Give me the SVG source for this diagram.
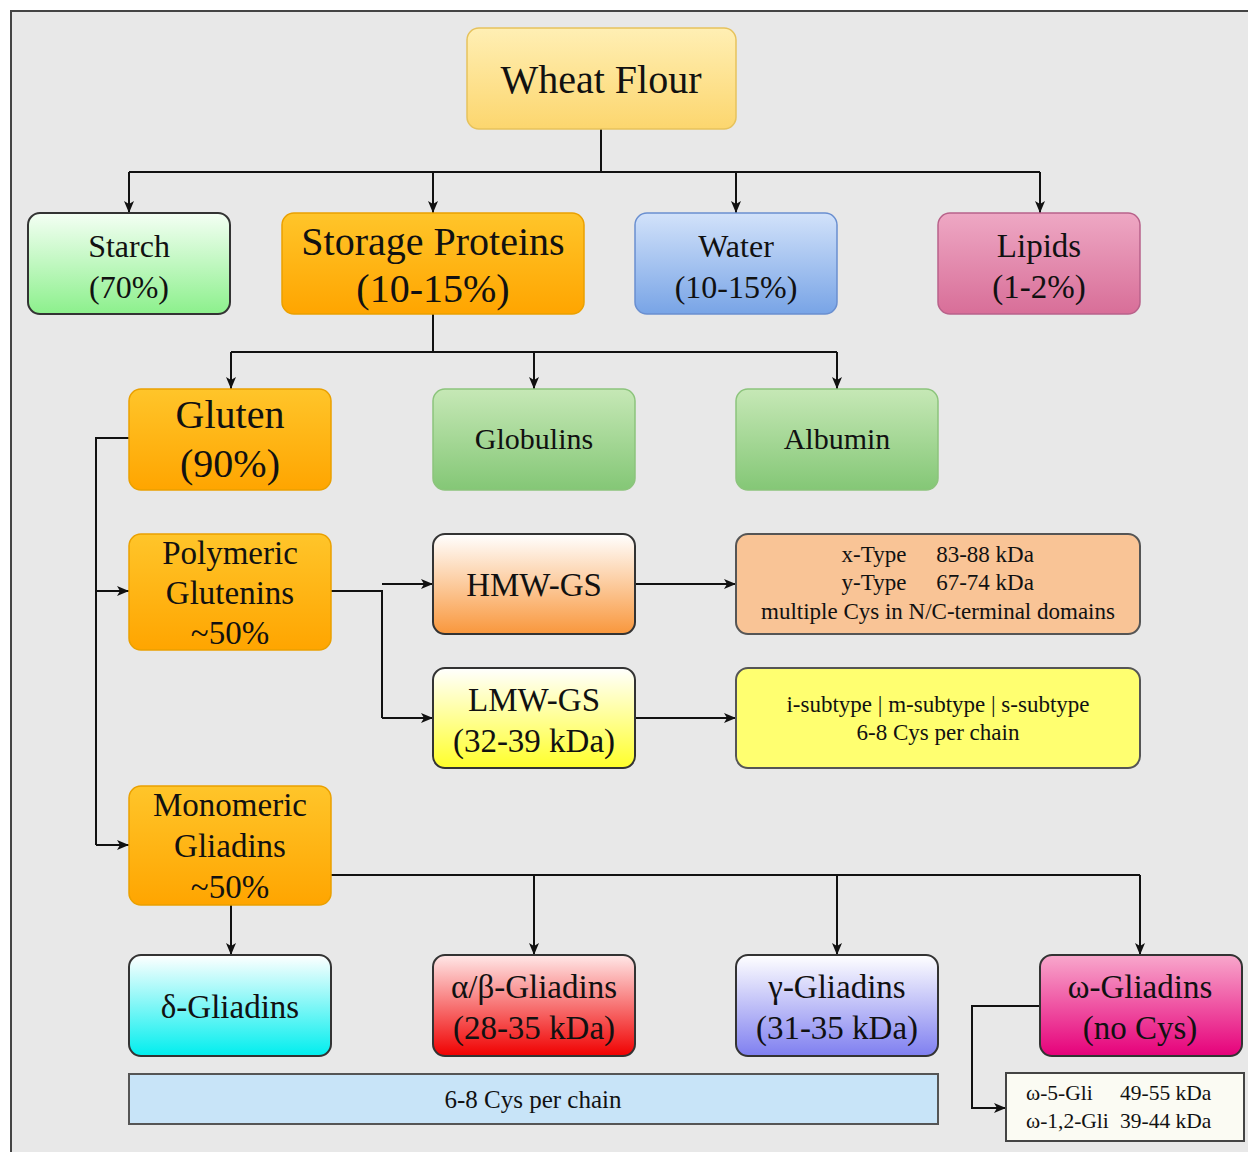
<svg xmlns="http://www.w3.org/2000/svg" width="1248" height="1152" viewBox="0 0 1248 1152" font-family="'Liberation Serif', Tinos, 'Times New Roman', 'DejaVu Serif', serif">
<style>
text{font-family:"Liberation Serif",Tinos,"Times New Roman","DejaVu Serif",serif;fill:#111;text-anchor:middle}
.c{fill:none;stroke:#111;stroke-width:2}
.f40{font-size:40px}.f33{font-size:33px}.f32{font-size:32px}.f30{font-size:30px}.f23{font-size:23px}.f21{font-size:21.5px}.f25{font-size:25px}
</style>
<defs>
<marker id="ah" viewBox="0 0 12 10" refX="12" refY="5" markerWidth="12" markerHeight="10" markerUnits="userSpaceOnUse" orient="auto">
<path d="M0,0 L12,5 L0,10 L3,5 Z" fill="#111"/>
</marker>
<linearGradient id="gWF" x1="0" y1="0" x2="0" y2="1"><stop offset="0" stop-color="#ffefb4"/><stop offset="1" stop-color="#fcd66e"/></linearGradient>
<linearGradient id="gOr" x1="0" y1="0" x2="0" y2="1"><stop offset="0" stop-color="#ffc52a"/><stop offset="1" stop-color="#ffa500"/></linearGradient>
<linearGradient id="gSt" x1="0" y1="0" x2="0" y2="1"><stop offset="0" stop-color="#f4fff4"/><stop offset="1" stop-color="#8cf08c"/></linearGradient>
<linearGradient id="gWa" x1="0" y1="0" x2="0" y2="1"><stop offset="0" stop-color="#d2e2fa"/><stop offset="1" stop-color="#78a4e6"/></linearGradient>
<linearGradient id="gLi" x1="0" y1="0" x2="0" y2="1"><stop offset="0" stop-color="#eea8c4"/><stop offset="1" stop-color="#d86e98"/></linearGradient>
<linearGradient id="gGr" x1="0" y1="0" x2="0" y2="1"><stop offset="0" stop-color="#c6e8b6"/><stop offset="1" stop-color="#84c776"/></linearGradient>
<linearGradient id="gHM" x1="0" y1="0" x2="0" y2="1"><stop offset="0" stop-color="#ffffff"/><stop offset="1" stop-color="#f9973c"/></linearGradient>
<linearGradient id="gLM" x1="0" y1="0" x2="0" y2="1"><stop offset="0" stop-color="#ffffff"/><stop offset="1" stop-color="#ffff2a"/></linearGradient>
<linearGradient id="gDe" x1="0" y1="0" x2="0" y2="1"><stop offset="0" stop-color="#ffffff"/><stop offset="1" stop-color="#00eeee"/></linearGradient>
<linearGradient id="gAB" x1="0" y1="0" x2="0" y2="1"><stop offset="0" stop-color="#ffe8e8"/><stop offset="1" stop-color="#f00000"/></linearGradient>
<linearGradient id="gGa" x1="0" y1="0" x2="0" y2="1"><stop offset="0" stop-color="#ffffff"/><stop offset="1" stop-color="#7f7ff0"/></linearGradient>
<linearGradient id="gOm" x1="0" y1="0" x2="0" y2="1"><stop offset="0" stop-color="#f8a8cc"/><stop offset="1" stop-color="#e6007a"/></linearGradient>
</defs>
<rect width="1248" height="1152" fill="#ffffff"/>
<rect x="11" y="11" width="1260" height="1160" fill="#e8e8e8" stroke="#444" stroke-width="2"/>

<g id="connectors">
<path class="c" d="M601,129 V172"/>
<path class="c" d="M129,172 H1040"/>
<path class="c" d="M129,172 V213" marker-end="url(#ah)"/>
<path class="c" d="M433,172 V213" marker-end="url(#ah)"/>
<path class="c" d="M736,172 V213" marker-end="url(#ah)"/>
<path class="c" d="M1040,172 V213" marker-end="url(#ah)"/>
<path class="c" d="M433,314 V352"/>
<path class="c" d="M231,352 H837"/>
<path class="c" d="M231,352 V389" marker-end="url(#ah)"/>
<path class="c" d="M534,352 V389" marker-end="url(#ah)"/>
<path class="c" d="M837,352 V389" marker-end="url(#ah)"/>
<path class="c" d="M129,438 H96 V845"/>
<path class="c" d="M96,591 H129" marker-end="url(#ah)"/>
<path class="c" d="M96,845 H129" marker-end="url(#ah)"/>
<path class="c" d="M331,591 H382 V718"/>
<path class="c" d="M382,584 H433" marker-end="url(#ah)"/>
<path class="c" d="M382,718 H433" marker-end="url(#ah)"/>
<path class="c" d="M635,584 H736" marker-end="url(#ah)"/>
<path class="c" d="M635,718 H736" marker-end="url(#ah)"/>
<path class="c" d="M231,905 V955" marker-end="url(#ah)"/>
<path class="c" d="M331,875 H1140"/>
<path class="c" d="M534,875 V955" marker-end="url(#ah)"/>
<path class="c" d="M837,875 V955" marker-end="url(#ah)"/>
<path class="c" d="M1140,875 V955" marker-end="url(#ah)"/>
<path class="c" d="M1040,1006 H972 V1108 H1006" marker-end="url(#ah)"/>
</g>

<g id="wheat-flour">
<rect x="467" y="28" width="269" height="101" rx="12" fill="url(#gWF)" stroke="#e6c25c" stroke-width="1.5"/>
<text x="601" y="93" class="f40">Wheat Flour</text>
</g>
<g id="starch">
<rect x="28" y="213" width="202" height="101" rx="12" fill="url(#gSt)" stroke="#333" stroke-width="2"/>
<text x="129" y="257" class="f32">Starch</text>
<text x="129" y="298" class="f32">(70%)</text>
</g>
<g id="storage-proteins">
<rect x="282" y="213" width="302" height="101" rx="12" fill="url(#gOr)" stroke="#eaa000" stroke-width="1.5"/>
<text x="433" y="255" class="f40">Storage Proteins</text>
<text x="433" y="302" class="f40">(10-15%)</text>
</g>
<g id="water">
<rect x="635" y="213" width="202" height="101" rx="12" fill="url(#gWa)" stroke="#6a8fd0" stroke-width="1.5"/>
<text x="736" y="257" class="f32">Water</text>
<text x="736" y="298" class="f32">(10-15%)</text>
</g>
<g id="lipids">
<rect x="938" y="213" width="202" height="101" rx="12" fill="url(#gLi)" stroke="#b8628a" stroke-width="1.5"/>
<text x="1039" y="257" class="f33">Lipids</text>
<text x="1039" y="298" class="f33">(1-2%)</text>
</g>
<g id="gluten">
<rect x="129" y="389" width="202" height="101" rx="12" fill="url(#gOr)" stroke="#eaa000" stroke-width="1.5"/>
<text x="230" y="428" class="f40">Gluten</text>
<text x="230" y="477" class="f40">(90%)</text>
</g>
<g id="globulins">
<rect x="433" y="389" width="202" height="101" rx="12" fill="url(#gGr)" stroke="#8cc47c" stroke-width="1.5"/>
<text x="534" y="449" class="f30">Globulins</text>
</g>
<g id="albumin">
<rect x="736" y="389" width="202" height="101" rx="12" fill="url(#gGr)" stroke="#8cc47c" stroke-width="1.5"/>
<text x="837" y="449" class="f30">Albumin</text>
</g>
<g id="polymeric-glutenins">
<rect x="129" y="534" width="202" height="116" rx="12" fill="url(#gOr)" stroke="#eaa000" stroke-width="1.5"/>
<text x="230" y="564" class="f33">Polymeric</text>
<text x="230" y="604" class="f33">Glutenins</text>
<text x="230" y="644" class="f33">~50%</text>
</g>
<g id="hmw-gs">
<rect x="433" y="534" width="202" height="100" rx="12" fill="url(#gHM)" stroke="#333" stroke-width="2"/>
<text x="534" y="596" class="f33">HMW-GS</text>
</g>
<g id="lmw-gs">
<rect x="433" y="668" width="202" height="100" rx="12" fill="url(#gLM)" stroke="#333" stroke-width="2"/>
<text x="534" y="711" class="f33">LMW-GS</text>
<text x="534" y="752" class="f33">(32-39 kDa)</text>
</g>
<g id="hmw-info">
<rect x="736" y="534" width="404" height="100" rx="12" fill="#f9c496" stroke="#555" stroke-width="2"/>
<text y="562" class="f23"><tspan x="874">x-Type</tspan><tspan x="985">83-88 kDa</tspan></text>
<text y="590" class="f23"><tspan x="874">y-Type</tspan><tspan x="985">67-74 kDa</tspan></text>
<text x="938" y="619" class="f23">multiple Cys in N/C-terminal domains</text>
</g>
<g id="lmw-info">
<rect x="736" y="668" width="404" height="100" rx="12" fill="#ffff70" stroke="#555" stroke-width="2"/>
<text x="938" y="712" class="f23">i-subtype | m-subtype | s-subtype</text>
<text x="938" y="740" class="f23">6-8 Cys per chain</text>
</g>
<g id="monomeric-gliadins">
<rect x="129" y="786" width="202" height="119" rx="12" fill="url(#gOr)" stroke="#eaa000" stroke-width="1.5"/>
<text x="230" y="816" class="f33">Monomeric</text>
<text x="230" y="857" class="f33">Gliadins</text>
<text x="230" y="898" class="f33">~50%</text>
</g>
<g id="delta-gliadins">
<rect x="129" y="955" width="202" height="101" rx="12" fill="url(#gDe)" stroke="#333" stroke-width="2"/>
<text x="230" y="1018" class="f33">δ-Gliadins</text>
</g>
<g id="alpha-beta-gliadins">
<rect x="433" y="955" width="202" height="101" rx="12" fill="url(#gAB)" stroke="#333" stroke-width="2"/>
<text x="534" y="998" class="f33">α/β-Gliadins</text>
<text x="534" y="1039" class="f33">(28-35 kDa)</text>
</g>
<g id="gamma-gliadins">
<rect x="736" y="955" width="202" height="101" rx="12" fill="url(#gGa)" stroke="#333" stroke-width="2"/>
<text x="837" y="998" class="f33">γ-Gliadins</text>
<text x="837" y="1039" class="f33">(31-35 kDa)</text>
</g>
<g id="omega-gliadins">
<rect x="1040" y="955" width="202" height="101" rx="12" fill="url(#gOm)" stroke="#333" stroke-width="2"/>
<text x="1140" y="998" class="f33">ω-Gliadins</text>
<text x="1140" y="1039" class="f33">(no Cys)</text>
</g>
<g id="cys-bar">
<rect x="129" y="1074" width="809" height="50" fill="#c8e4f8" stroke="#555" stroke-width="2"/>
<text x="533" y="1108" class="f25">6-8 Cys per chain</text>
</g>
<g id="omega-info">
<rect x="1006" y="1073" width="238" height="68" fill="#fbfbf3" stroke="#444" stroke-width="2"/>
<text y="1100" class="f21" style="text-anchor:start"><tspan x="1026">ω-5-Gli</tspan><tspan x="1120">49-55 kDa</tspan></text>
<text y="1128" class="f21" style="text-anchor:start"><tspan x="1026">ω-1,2-Gli</tspan><tspan x="1120">39-44 kDa</tspan></text>
</g>
</svg>
